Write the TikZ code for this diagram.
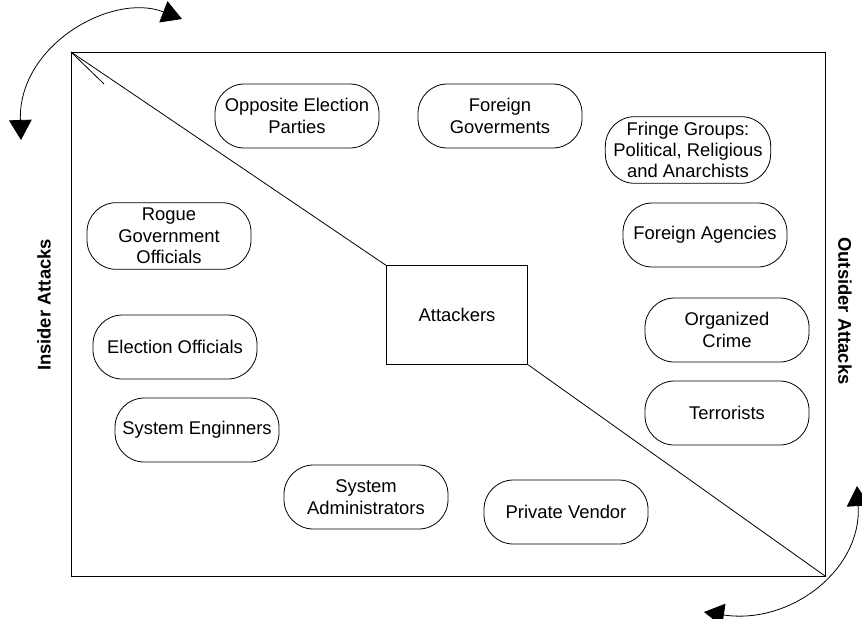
\documentclass[tikz,border=0pt]{standalone}
\usepackage{fontspec}
\setmainfont{Liberation Sans}
\usetikzlibrary{arrows.meta}

\begin{document}
\begin{tikzpicture}[x=0.75pt,y=-0.75pt,line width=0.6pt,
		font=\fontsize{13.8pt}{16pt}\selectfont]

		\tikzset{actor/.style = {shape=rectangle,draw,rounded corners=22pt,align=center,
				minimum width=123pt,minimum height=48pt,inner sep=0pt}}
		\tikzset{hub/.style = {shape=rectangle,draw,minimum width=106pt,minimum height=74pt}}
		\tikzset{side/.style = {font=\fontsize{13.8pt}{16pt}\selectfont\bfseries}}
		\tikzset{swing/.style = {{Triangle[width=17pt,length=15pt]}-{Triangle[width=17pt,length=15pt]}}}
		\useasboundingbox (0,0) rectangle (862,618);

		\coordinate (tl) at (71,52);
		\coordinate (br) at (825,576);
		\coordinate (stub) at (104,84);
		\draw (tl) rectangle (br);
		\draw (tl) -- (stub);

		\node[hub] (att) at (457,315) {Attackers};
		\node[actor] (opp) at (297,116) {Opposite Election\\Parties};
		\node[actor] (fgov) at (500,116) {Foreign\\Goverments};
		\node[actor,minimum width=124pt,minimum height=50pt] (fringe) at (688,150) {Fringe Groups:\\Political, Religious\\and Anarchists};
		\node[actor,minimum height=50pt] (rogue) at (169,236) {Rogue\\Government\\Officials};
		\node[actor] (fagency) at (705,235) {Foreign Agencies};
		\node[actor] (elect) at (175,347) {Election Officials};
		\node[actor] (crime) at (727,330) {Organized\\Crime};
		\node[actor] (terror) at (727,413) {Terrorists};
		\node[actor] (syseng) at (197,430) {System Enginners};
		\node[actor] (sysadm) at (366,497) {System\\Administrators};
		\node[actor] (vendor) at (566,512) {Private Vendor};

		\node[side,rotate=90] (insider) at (44,305) {Insider Attacks};
		\node[side,rotate=-90] (outsider) at (845,311) {Outsider Attacks};

		%diagonal
		\draw (tl) -- (att.north west);
		\draw (att.south east) -- (br);

		%swing arrows
		\coordinate (ta) at (182,19);
		\coordinate (tb) at (21,140);
		\coordinate (ba) at (857,486);
		\coordinate (bb) at (704,612);
		\draw[swing] (ta) .. controls (112,-8) and (18,45) .. (tb);
		\draw[swing] (ba) .. controls (862,570) and (790,625) .. (bb);
\end{tikzpicture}
\end{document}
